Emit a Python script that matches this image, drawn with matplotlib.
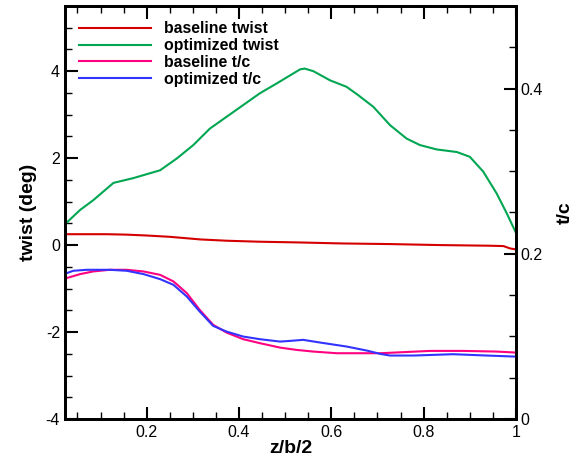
import matplotlib
matplotlib.use("Agg")
import matplotlib.pyplot as plt
from matplotlib.ticker import MultipleLocator

plt.rcParams['font.family'] = ['Liberation Sans', 'DejaVu Sans']

# optimized twist (deg)
x_opt_tw = [0.023, 0.056, 0.084, 0.128, 0.171, 0.229, 0.265, 0.301, 0.337, 0.373, 0.409,
            0.445, 0.482, 0.518, 0.532, 0.542, 0.561, 0.597, 0.633, 0.658, 0.691, 0.727,
            0.763, 0.792, 0.828, 0.872, 0.900, 0.929, 0.958, 0.980, 1.0]
opt_twist = [0.48, 0.81, 1.03, 1.43, 1.54, 1.72, 1.99, 2.30, 2.68, 2.95, 3.22,
             3.49, 3.72, 3.95, 4.04, 4.06, 4.00, 3.79, 3.64, 3.45, 3.18, 2.76,
             2.45, 2.30, 2.20, 2.14, 2.03, 1.69, 1.19, 0.73, 0.28]

# baseline twist (deg)
x_base_tw = [0.023, 0.113, 0.157, 0.2, 0.25, 0.316, 0.373, 0.445, 0.532, 0.619, 0.727,
             0.835, 0.944, 0.973, 0.987, 1.0]
base_twist = [0.25, 0.25, 0.24, 0.22, 0.19, 0.13, 0.10, 0.077, 0.06, 0.038, 0.023,
              0.0, -0.015, -0.023, -0.077, -0.10]

# baseline t/c
x_base_tc = [0.023, 0.056, 0.084, 0.12, 0.157, 0.193, 0.229, 0.258, 0.287, 0.315, 0.344,
             0.373, 0.409, 0.445, 0.489, 0.525, 0.561, 0.612, 0.706, 0.814, 0.886, 0.958, 1.0]
base_tc = [0.170, 0.1754, 0.1786, 0.1806, 0.1806, 0.1786, 0.1745, 0.1665, 0.1523, 0.132, 0.114,
           0.1046, 0.0966, 0.0918, 0.0864, 0.0836, 0.0816, 0.0796, 0.0796, 0.0824, 0.0824, 0.0816, 0.0804]

# optimized t/c
x_opt_tc = [0.023, 0.041, 0.07, 0.12, 0.157, 0.193, 0.229, 0.258, 0.287, 0.315, 0.344,
            0.373, 0.409, 0.445, 0.489, 0.51, 0.539, 0.576, 0.633, 0.677, 0.706, 0.727,
            0.778, 0.864, 0.937, 1.0]
opt_tc = [0.1758, 0.1794, 0.1806, 0.1806, 0.1794, 0.1754, 0.1693, 0.1624, 0.1482, 0.130, 0.1127,
          0.1058, 0.0998, 0.0966, 0.0937, 0.0945, 0.0958, 0.0925, 0.0877, 0.0828, 0.0788, 0.0768,
          0.0768, 0.0784, 0.0768, 0.0755]

RED = '#d40000'
GREEN = '#00a651'
PINK = '#ff0080'
BLUE = '#3333ff'

fig = plt.figure(figsize=(5.73, 4.58), dpi=100)
ax = fig.add_axes([0.1134, 0.0852, 0.7871, 0.9018])
ax2 = ax.twinx()

l1, = ax.plot(x_base_tw, base_twist, color=RED, lw=1.5, label='baseline twist')
l2, = ax.plot(x_opt_tw, opt_twist, color=GREEN, lw=1.5, label='optimized twist')
l3, = ax2.plot(x_base_tc, base_tc, color=PINK, lw=1.5, label='baseline t/c')
l4, = ax2.plot(x_opt_tc, opt_tc, color=BLUE, lw=1.5, label='optimized t/c')

ax.set_xlim(0.023, 1.0)
ax.set_ylim(-4, 5.5)
ax2.set_ylim(0, 0.5)

ax.xaxis.set_major_locator(MultipleLocator(0.2))
ax.xaxis.set_minor_locator(MultipleLocator(0.05))
ax.yaxis.set_major_locator(MultipleLocator(2))
ax.yaxis.set_minor_locator(MultipleLocator(0.5))
ax2.yaxis.set_major_locator(MultipleLocator(0.2))
ax2.yaxis.set_minor_locator(MultipleLocator(0.05))

fmt = plt.FuncFormatter(lambda v, p: ('%g' % round(v, 2)))
ax.xaxis.set_major_formatter(fmt)
ax.yaxis.set_major_formatter(fmt)
ax2.yaxis.set_major_formatter(fmt)

ax.tick_params(axis='x', which='both', direction='in', top=True, bottom=True, labelsize=11.5, pad=4)
ax.tick_params(axis='y', which='both', direction='in', left=True, right=False, labelsize=11.5)
ax2.tick_params(axis='y', which='both', direction='in', labelsize=11.5)
for a in (ax, ax2):
    a.tick_params(which='major', length=9, width=1.5)
    a.tick_params(which='minor', length=5, width=1.0)
    for s in a.spines.values():
        s.set_linewidth(2.0)

ax.set_xlabel('z/b/2', fontsize=14, fontweight='bold', labelpad=0)
ax.set_ylabel('twist (deg)', fontsize=14, fontweight='bold', labelpad=6)
ax2.set_ylabel('t/c', fontsize=14, fontweight='bold', labelpad=10)

leg = ax.legend(handles=[l1, l2, l3, l4], loc='upper left', frameon=False,
                prop={'weight': 'bold', 'size': 11.4}, handlelength=4.55,
                labelspacing=0.12, borderaxespad=0.3, handletextpad=0.82,
                bbox_to_anchor=(0.0066, 0.99))

fig.savefig('out.png', dpi=100)
